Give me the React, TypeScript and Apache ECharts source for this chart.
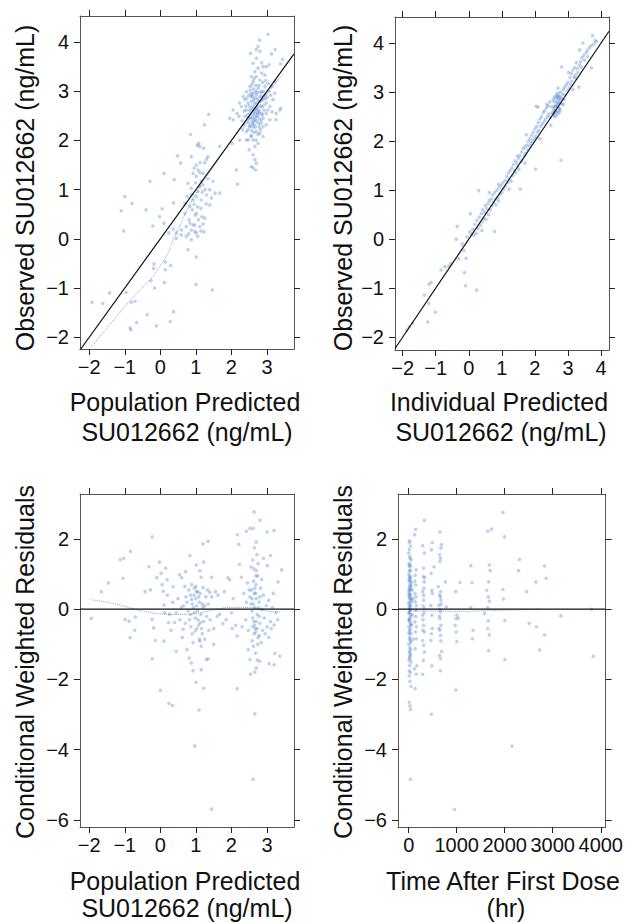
import React, { useEffect, useRef } from "react";
import * as echarts from "echarts";

// ---------- tick labels ----------
const predTicks = [-2, -1, 0, 1, 2, 3];
const ipredTicks = [-2, -1, 0, 1, 2, 3, 4];
const dvTicks = [-2, -1, 0, 1, 2, 3, 4];
const cwresTicks = [-6, -4, -2, 0, 2];
const timeTicks = [0, 1000, 2000, 3000, 4000];

// ---------- axis ranges ----------
const predRange = [-2.26, 3.76];
const ipredRange = [-2.23, 4.24];
const dvRange1 = [-2.24, 4.53];
const dvRange2 = [-2.26, 4.53];
const cwresRange = [-6.2, 3.28];
const timeRange = [-223, 4100];

// ---------- titles ----------
const yTitleDV = "Observed SU012662 (ng/mL)";
const yTitleCW = "Conditional Weighted Residuals";
const xTitlePred = ["Population Predicted", "SU012662 (ng/mL)"];
const xTitleIpred = ["Individual Predicted", "SU012662 (ng/mL)"];
const xTitleTime = ["Time After First Dose", "(hr)"];

// ---------- Panel 1: observed vs population predicted ----------
const dvVsPred = [
  [3.03,4.16],[2.79,4.04],[2.75,3.91],[2.70,3.85],[2.54,3.77],[3.23,3.85],[3.13,3.76],[3.44,3.65],[3.38,3.56],[3.06,3.54],[2.85,3.58],[3.39,2.66],[3.25,2.42],[2.16,2.55],
  [2.23,2.76],[2.28,2.69],[2.38,2.83],[2.42,2.62],[2.47,2.45],[2.38,2.35],[2.31,2.22],[2.42,2.18],[2.52,2.28],[2.56,2.08],[2.47,2.01],[2.61,2.01],[2.66,1.88],[2.70,2.01],[2.75,1.94],[2.80,2.15],[2.89,2.08],[2.61,1.71],[2.66,1.61],[2.56,2.89],[2.61,2.96],[2.66,2.86],[2.70,2.93],[2.80,2.89],[2.89,2.83],[2.61,2.69],[2.70,2.62],[2.75,2.52],[2.85,2.55],[2.61,2.52],[2.52,2.55],[2.66,2.42],[2.75,2.35],[2.89,2.45],[2.98,2.55],[3.08,2.69],[3.17,2.83],[3.13,3.10],[3.22,3.20],[3.03,3.16],[2.94,3.10],[2.80,3.23],[2.70,3.30],[2.61,3.20],[2.66,3.40],[2.75,3.47],[2.85,3.37],[2.94,3.33],[2.89,3.50],[2.56,3.30],[2.52,3.10],[2.42,2.99],[2.33,2.89],[2.75,3.06],[2.85,2.99],[2.94,2.93],[2.56,2.79],[2.70,2.76],[2.82,2.70],[2.98,2.76],[2.47,2.76],[2.61,2.28],[2.47,2.22],[2.89,2.28],[2.98,2.32],[2.38,2.49],[2.21,2.49],[2.05,2.62],[3.08,2.42],[3.26,2.55],[3.36,2.62],[3.22,2.96],[2.98,3.50],[2.70,3.67],[2.61,3.57],[2.80,3.81],[2.50,1.81],[2.56,1.47],[2.68,1.40],[2.42,2.01],[2.23,2.01],
  [2.58,2.60],[2.63,2.58],[2.68,2.55],[2.72,2.48],[2.64,2.33],[2.58,2.38],[2.53,2.44],[2.77,2.62],[2.83,2.80],[2.73,2.85],[2.65,2.75],[2.60,2.90],[2.68,3.00],[2.78,3.12],[2.88,3.18],[2.55,2.95],[2.50,2.70],[2.45,2.52],[2.57,2.20],[2.70,2.18],[2.78,2.28],[2.84,2.40],[2.92,2.62],[3.00,2.88],[3.05,3.00],[2.62,3.05],[2.74,2.70],[2.66,2.64],[2.60,2.45],[2.78,2.58],[2.86,2.68],[2.52,2.30],[2.44,2.40],[2.36,2.60],[2.30,2.40],
  [2.51,2.62],[2.54,2.48],[2.59,2.34],[2.63,2.16],[2.67,2.27],[2.71,2.40],[2.74,2.56],[2.79,2.44],[2.82,2.22],[2.87,2.52],[2.91,2.72],[2.95,2.85],[2.49,2.92],[2.53,3.02],[2.58,3.14],[2.64,3.26],[2.69,3.12],[2.72,2.98],[2.76,2.80],[2.81,2.98],[2.86,2.90],[2.90,3.00],[2.96,3.22],[3.02,2.62],[3.10,2.92],[3.14,2.58],[2.44,2.86],[2.40,2.70],[2.35,2.30],[2.57,2.66],[2.62,2.82],[2.67,2.48],[2.71,2.66],[2.63,2.40],[2.55,2.10],[2.75,2.12],[2.83,2.35],[2.48,2.36],
  [1.36,2.53],[1.24,2.32],[0.85,2.12],[0.48,1.69],[0.57,1.54],[0.10,1.33],[0.39,1.20],[-0.29,1.17],[1.67,1.88],[2.14,1.40],[2.17,1.11],[2.61,1.44],[2.70,1.54],[-1.00,0.86],[-0.80,0.72],[-1.10,0.57],[-0.40,0.59],[-1.03,0.16],[-0.21,0.26],[-0.02,0.45],[0.05,0.61],[0.37,0.73],[0.78,-0.22],[1.01,-0.37],[1.00,-0.93],[1.46,-1.04],[0.29,-0.54],[0.14,-0.47],[-0.18,-0.51],[-0.19,-0.60],[0.14,-0.63],[0.11,-0.89],[-0.16,-1.00],[-0.26,-0.85],[-1.43,-1.10],[-1.92,-1.29],[-1.62,-1.31],[-0.96,-1.09],[-0.71,-1.27],[-0.82,-1.29],[-0.37,-1.54],[0.37,-1.48],[0.28,-1.68],[-0.67,-1.70],[-0.11,-1.77],[-0.85,-1.81],[-0.83,-1.85],[0.10,0.32],[0.24,0.12],[0.36,0.20],[0.45,0.01],
  [0.83,0.66],[0.92,0.79],[1.01,0.86],[1.11,1.06],[1.15,1.17],[1.20,1.33],[1.01,1.50],[0.95,1.44],[1.08,1.94],[1.11,1.88],[1.04,1.90],[1.22,1.84],[1.30,1.62],[1.34,1.67],[1.48,1.17],[1.54,0.93],[1.29,0.71],[1.39,0.69],[1.17,0.45],[1.25,0.42],[0.92,0.28],[0.87,0.18],[0.97,0.15],[1.14,0.16],[1.23,0.14],[0.73,0.05],[0.59,0.08],[0.81,0.39],[0.69,0.52],[0.75,0.86],[0.87,1.03],[1.01,1.27],[0.99,1.14],[1.06,0.96],[1.15,0.79],[1.14,0.62],[1.01,0.52],[0.90,0.59],[1.07,0.39],[0.97,0.28],[0.83,0.32],[1.30,0.89],[1.34,1.22],[1.11,1.35],[0.92,1.33],[0.78,1.13],[0.87,1.67],[0.69,0.72],[0.59,0.18],[0.45,0.12],[0.73,0.25],[1.06,1.40],[1.20,1.10],[1.26,1.00],[1.39,1.00],[1.44,0.83],[1.11,0.25],[1.01,0.12],[0.87,-0.02],[1.67,0.93],[2.02,1.94],[1.95,2.45],[2.05,2.42],
  [0.95,0.70],[1.05,0.65],[1.18,0.95],[0.88,0.90],[1.12,1.55],[1.25,1.55],[0.98,0.48],[1.20,0.30],[0.80,0.10],[1.05,0.05]
];
const loessPred = [[-1.94,-2.2],[-1,-1.38],[0,-0.55],[0.5,0.2],[1,0.92],[1.5,1.48],[2,2.0],[2.5,2.5],[3,2.95],[3.45,3.35]];

// ---------- Panel 2: observed vs individual predicted ----------
const dvVsIpred = [
  [-1.87,-1.85],[-1.80,-1.78],[-1.70,-1.71],[-1.24,-1.69],[-1.01,-1.49],[-1.21,-1.31],[-1.34,-1.14],[-1.14,-0.88],[-1.20,-0.92],[-0.84,-0.63],[-0.72,-0.56],[-0.54,-0.49],[-0.60,-0.55],[-0.35,0.26],[-0.38,0.0],[-0.15,-0.23],[-0.08,-0.39],[-0.13,-0.68],[-0.10,-0.95],[0.24,-1.04],[-0.30,-0.40],[-0.20,-0.10],[-0.05,0.05],
  [0.03,0.15],[0.05,0.52],[0.08,0.10],[0.12,0.20],[0.15,0.08],[0.18,0.30],[0.22,0.12],[0.25,0.38],[0.28,0.22],[0.30,0.99],[0.32,0.45],[0.35,0.28],[0.38,0.52],[0.40,0.35],[0.42,0.60],[0.45,0.42],[0.48,0.55],[0.50,0.68],[0.52,0.40],[0.55,0.62],[0.58,0.72],[0.60,0.50],[0.62,0.78],[0.65,0.60],[0.68,0.82],[0.70,0.68],[0.72,0.90],[0.75,0.75],[0.78,0.16],[0.78,0.95],[0.80,0.82],[0.82,0.70],[0.85,1.00],[0.88,0.85],[0.90,0.78],[0.92,1.05],[0.95,0.92],[0.98,1.10],
  [1.00,0.95],[1.03,1.15],[1.06,1.02],[1.10,1.20],[1.12,1.08],[1.15,1.28],[1.18,1.15],[1.20,1.35],[1.22,1.22],[1.25,1.40],[1.28,1.18],[1.30,1.45],[1.33,1.30],[1.35,1.52],[1.38,1.40],[1.40,1.60],[1.42,1.35],[1.45,1.55],[1.48,1.48],[1.50,1.65],[1.52,1.42],[1.56,1.02],[1.55,1.70],[1.58,1.58],[1.60,1.78],[1.62,1.62],[1.65,1.85],[1.68,1.70],[1.70,1.88],[1.72,1.75],[1.74,2.13],[1.75,1.92],[1.78,1.82],[1.80,2.00],[1.83,1.90],[1.85,2.05],[1.88,1.95],[1.90,2.12],[1.93,2.00],[1.95,2.18],[1.98,2.05],
  [2.00,2.25],[2.02,1.43],[2.04,2.71],[2.10,2.69],[2.03,2.10],[2.06,2.30],[2.08,2.18],[2.10,2.38],[2.12,2.22],[2.15,2.45],[2.18,2.30],[2.20,2.50],[2.22,2.35],[2.25,2.58],[2.28,2.40],[2.30,2.62],[2.32,2.45],[2.35,2.68],[2.38,2.50],[2.40,2.72],[2.42,2.55],[2.45,2.80],[2.47,2.48],[2.50,2.70],[2.52,2.58],[2.55,2.85],[2.56,2.65],[2.58,2.52],[2.60,2.90],[2.62,2.72],[2.63,2.60],[2.65,2.95],[2.66,2.80],[2.68,2.55],[2.70,2.98],[2.70,2.85],[2.72,2.68],[2.74,2.92],[2.75,2.62],[2.76,2.78],[2.78,3.00],[2.79,1.61],[2.80,2.88],[2.81,3.51],[2.82,2.75],[2.84,2.95],[2.86,3.05],[2.88,2.85],[2.90,3.10],[2.92,2.95],[2.95,3.15],[2.98,3.02],
  [2.62,2.50],[2.66,2.62],[2.69,2.70],[2.72,2.78],[2.64,2.88],[2.68,2.92],[2.58,2.70],[2.55,2.55],[2.73,2.58],[2.77,2.85],[2.60,2.62],[2.67,2.75],
  [0.40,0.18],[0.62,0.95],[0.90,1.12],[1.22,1.02],[1.47,1.70],[1.70,1.55],[2.15,2.05],[2.36,2.75],[2.48,2.32],[2.70,3.08],[2.86,2.75],[3.15,3.05],[3.02,3.40],[3.25,3.60],[2.58,2.80],[2.64,2.70],[2.60,2.58],[2.72,2.90],[2.76,2.66],
  [3.00,3.20],[3.03,3.08],[3.06,3.30],[3.08,3.15],[3.10,3.38],[3.12,3.22],[3.15,3.45],[3.18,3.30],[3.20,3.50],[3.22,3.35],[3.25,3.28],[3.28,3.48],[3.30,3.40],[3.33,3.10],[3.35,3.86],[3.35,3.55],[3.38,3.62],[3.40,3.50],[3.42,3.70],[3.45,4.00],[3.48,3.75],[3.50,3.65],[3.55,3.80],[3.58,3.85],[3.60,3.72],[3.65,3.90],[3.71,3.49],[3.70,3.95],[3.74,4.15],[3.78,3.98],[3.82,4.05],[3.86,4.03]
];

// ---------- Panel 3: CWRES vs population predicted ----------
const cwresVsPred = [
  [-1.94,-0.26],[-1.66,0.50],[-1.46,0.75],[-1.13,1.41],[-1.03,1.45],[-0.84,1.65],[-1.05,0.88],[-0.99,-0.29],[-0.88,-0.34],[-0.85,-0.81],[-0.70,-0.22],[-0.72,-0.60],[-0.43,0.50],[-0.32,1.21],[-0.23,2.06],[-0.28,0.55],[-0.23,-0.29],[-0.19,-0.53],[-0.14,-0.89],[-0.23,-1.41],[-0.02,1.34],[0.02,1.02],[0.08,0.51],[0.10,0.12],[0.10,-0.91],[0.15,1.17],[0.19,0.84],[0.23,-0.38],[0.26,-0.14],[0.24,-2.68],[0.34,-2.74],[0.0,-2.31],[0.36,0.64],[0.40,-0.38],[0.45,-1.20],[0.54,0.98],[0.59,0.05],[0.64,-0.57],[0.69,0.65],[0.71,1.07],[0.83,1.53],[0.75,-1.15],[0.81,-1.39],[0.87,-1.53],[0.92,-1.75],[0.97,-3.89],[1.00,-2.08],[1.09,-2.87],[1.22,-2.25],[1.01,1.26],[1.11,1.10],[1.15,0.91],[1.22,1.34],[1.20,1.86],[1.34,1.93],[1.44,0.91],[1.39,0.48],[1.50,-1.00],[1.34,-1.41],[1.30,-1.43],[1.15,-1.72],[1.11,-0.91],[1.44,-5.69],[1.62,0.40],[1.67,-0.14],[1.76,-0.41],[1.95,0.84],[2.02,-0.55],[2.12,-0.46],[2.16,-0.76],[2.16,-2.26],[2.21,1.85],[2.23,1.28],[2.17,2.12],[2.28,0.91],[2.42,2.22],[2.52,2.30],[2.61,2.30],[2.64,2.77],[2.80,2.53],[2.70,1.91],[3.00,2.20],[3.20,2.24],[3.41,1.12],[3.31,0.78],[3.10,1.53],[3.01,1.24],[3.36,-1.34],[3.20,-1.58],[3.06,-1.55],[3.22,-1.26],[2.66,-2.98],[2.61,-4.84],[2.54,-1.85],[2.66,-1.79],[2.70,-1.67],[2.47,-1.15],[2.52,-1.43],[2.80,-1.48],
  [0.80,0.55],[0.85,0.40],[0.88,0.28],[0.90,0.15],[0.93,0.05],[0.95,-0.10],[0.98,-0.25],[1.00,0.30],[1.02,0.10],[1.04,-0.05],[1.06,-0.30],[1.08,-0.45],[1.10,0.20],[1.12,0.45],[1.14,-0.15],[1.16,-0.55],[1.18,-0.70],[1.20,0.05],[1.22,-0.35],[1.25,-0.85],[1.28,0.35],[1.30,-0.20],[1.33,0.55],[1.36,-0.60],[0.82,-0.30],[0.86,-0.50],[0.90,-0.70],[0.92,-0.95],[0.96,0.60],[1.00,0.65],[1.05,0.50],[1.10,-0.85],[1.15,-1.05],[0.75,0.20],[0.78,-0.05],[0.72,0.35],[0.70,-0.40],[0.88,0.70],[1.20,0.62],[1.25,0.10],[1.35,0.15],[1.40,-0.30],[1.45,0.35],[1.50,-0.55],[1.55,0.50],[1.60,-0.20],
  [0.95,0.40],[1.03,-0.55],[1.08,0.35],[1.13,-0.38],[0.98,-0.62],[1.18,0.15],[0.85,-0.15],[1.02,0.50],
  [2.45,0.75],[2.50,0.55],[2.52,0.35],[2.55,0.15],[2.58,-0.05],[2.60,-0.25],[2.62,0.80],[2.64,0.45],[2.65,-0.45],[2.66,0.05],[2.68,-0.65],[2.70,0.30],[2.72,-0.15],[2.74,0.95],[2.75,-0.80],[2.78,0.20],[2.80,-0.40],[2.82,0.60],[2.84,-0.95],[2.86,0.00],[2.88,-0.60],[2.90,0.40],[2.92,-0.25],[2.95,-0.70],[2.98,0.10],[3.00,-0.50],[3.05,0.25],[3.10,-0.35],[3.15,0.05],[3.20,-0.45],[2.40,-0.30],[2.42,0.20],[2.48,-0.60],[2.35,0.45],[2.30,-0.50],[2.55,1.20],[2.60,1.40],[2.65,1.75],[2.70,1.10],[2.72,1.55],[2.75,1.30],[2.62,-1.05],[2.68,-1.25],[2.73,-1.45],[2.58,-0.90],[2.78,-0.75],[2.67,-0.55],[2.63,-0.35],[2.57,0.55],[2.69,0.70],[2.85,0.85],[2.90,1.45],[3.05,-0.80],[3.12,-0.55],[3.18,0.45],[3.25,-0.10],[3.30,-0.30],
  [2.62,0.15],[2.68,0.45],[2.64,-0.70],[2.70,-0.35],[2.58,0.30],[2.76,0.05],[2.66,0.60],[2.72,-0.55],[2.60,-0.50],[2.80,0.35],[2.74,-1.00],[2.69,0.95],[2.63,1.15],[2.78,-0.20],
  [1.80,0.50],[1.85,-0.30],[1.90,0.90],[2.00,-0.10],[2.05,0.30],
  [-0.10,0.90],[0.05,0.70],[0.12,-0.10],[0.20,0.40],[0.30,-0.60],[0.35,0.20],[0.45,-0.10],[0.50,0.30],[0.55,-0.30],[0.60,0.90],[0.62,-0.80],[0.65,0.10]
];
const loessCwresPred = [[-1.94,0.27],[-1.5,0.2],[-1,0.08],[-0.5,-0.05],[0,-0.13],[0.5,-0.15],[1,-0.12],[1.5,-0.02],[2,0.05],[2.5,0.05],[3,-0.05],[3.4,-0.08]];

// ---------- Panel 4: CWRES vs time ----------
const cwresVsTime = [
  [24,1.95],[12,1.90],[36,1.80],[0,1.60],[24,1.50],[48,1.40],[12,1.30],[24,1.20],[36,1.10],[0,1.00],[24,0.95],[12,0.90],[36,0.80],[24,0.70],[48,0.65],[12,0.60],[0,0.50],[24,0.45],[36,0.40],[12,0.35],[24,0.30],[48,0.20],[0,0.15],[24,0.10],[12,0.05],[36,0.00],[24,-0.05],[0,-0.10],[48,-0.20],[24,-0.30],[12,-0.35],[36,-0.40],[0,-0.50],[24,-0.60],[12,-0.65],[48,-0.70],[24,-0.80],[36,-0.90],[0,-1.00],[24,-1.10],[12,-1.20],[36,-1.30],[24,-1.40],[48,-1.50],[24,-1.60],[12,-1.75],[36,-1.80],[24,-2.05],[48,-2.20],[12,-2.65],[24,-2.75],[36,-2.85],[34,-4.84],
  [60,0.25],[60,-0.45],[60,0.75],[72,-0.15],[72,0.55],[90,-0.85],[90,0.30],[6,1.25],[18,-0.25],[30,0.65],[42,-0.95],[6,-1.45],[18,0.85],
  [6,0.20],[18,0.55],[30,-0.15],[42,0.30],[6,-0.70],[18,-0.85],[30,1.45],[42,-1.15],[6,0.80],[18,1.10],[30,-0.55],[42,0.90],[10,-1.90],[28,-1.25],[40,-0.45],[8,0.40],[20,-1.35],[36,1.25],[14,1.70],[44,0.10],[4,-0.30],[26,0.00],[16,-0.10],[38,0.55],
  [122,2.12],[142,2.27],[156,1.12],[135,0.97],[142,0.69],[129,0.45],[135,0.21],[156,-0.03],[129,-0.36],[142,-0.65],[156,-0.84],[135,-1.13],[169,-1.61],[156,-1.85],[135,-2.26],[122,-1.70],[150,0.35],[160,-0.50],[160,0.10],[145,-0.20],[130,0.80],
  [325,2.53],[291,1.81],[325,1.60],[311,1.17],[305,0.93],[325,0.78],[291,0.50],[311,0.26],[325,0.02],[291,-0.17],[311,-0.46],[325,-0.65],[291,-0.89],[311,-1.03],[325,-1.22],[305,-1.46],[291,-1.85],[318,0.60],[300,-0.30],[300,0.10],[320,-0.10],[310,0.40],[295,-0.60],[330,0.90],
  [494,1.90],[474,1.69],[467,1.02],[481,0.54],[494,0.45],[460,0.11],[481,-0.17],[494,-0.55],[474,-0.70],[460,-0.89],[481,-1.61],[474,-2.99],[528,1.21],
  [650,2.20],[684,1.84],[670,1.74],[643,1.55],[663,1.45],[650,1.36],[616,0.64],[663,0.50],[643,0.40],[670,0.26],[630,0.11],[663,-0.08],[650,-0.27],[670,-0.46],[630,-0.55],[663,-0.75],[643,-1.32],[663,-1.41],[684,-1.20],[663,-1.75],[765,0.78],[785,0.07],
  [655,0.00],[640,-0.20],[675,0.15],[660,0.35],[645,-0.60],[670,-0.90],
  [981,0.50],[1002,-0.17],[988,-0.27],[968,-0.46],[988,-0.65],[1002,-0.92],[981,-2.30],[954,-5.70],[1069,0.76],[1035,-0.25],
  [1293,1.24],[1320,0.76],[1293,0.04],[1340,-0.60],[1327,-0.84],
  [1645,2.22],[1726,2.28],[1679,1.26],[1699,1.10],[1665,0.78],[1624,0.54],[1658,0.35],[1679,0.23],[1645,0.05],[1577,-0.12],[1658,-0.33],[1645,-0.55],[1679,-0.73],[1665,-1.18],
  [1963,2.76],[1997,2.06],[1963,0.56],[1970,0.29],[2003,-0.32],[2003,-1.43],[2152,-3.90],
  [2308,1.42],[2288,1.10],[2457,0.50],[2511,-0.40],[2646,0.78],[2660,-0.50],[2728,-1.16],[2829,1.23],[2863,0.88],[2829,-0.73],[3168,-0.19],[3844,-1.34],[3810,0.0]
];
const loessCwresTime = [[0,-0.05],[500,-0.05],[1000,-0.06],[1500,-0.05],[2000,-0.03],[2500,-0.01],[2750,0]];

const FONT = '"Liberation Sans", Arial, sans-serif';
const POINT = "rgba(62,122,200,0.42)";
const LOESS = "rgba(62,122,200,0.65)";

const grids = [
  { left: 80, top: 16, width: 214, height: 333 },
  { left: 395, top: 17, width: 214, height: 333 },
  { left: 80, top: 494, width: 214, height: 333 },
  { left: 398, top: 494, width: 213, height: 333 },
];

const fmt = (v: number) => String(v).replace("-", "\u2212");

function axisPair(kind: "x" | "y", gi: number, range: number[], ticks: number[]) {
  const positions = kind === "x" ? ["bottom", "top"] : ["left", "right"];
  return positions.map((pos, i) => ({
    type: "value",
    gridIndex: gi,
    position: pos,
    min: range[0],
    max: range[1],
    axisLine: { show: true, onZero: false, lineStyle: { color: "#555", width: 1 } },
    axisTick: { show: true, inside: false, length: 6, customValues: ticks, lineStyle: { color: "#222", width: 1 } },
    axisLabel: {
      show: i === 0,
      customValues: ticks,
      formatter: fmt,
      fontSize: 20,
      fontFamily: FONT,
      color: "#111",
      margin: kind === "x" ? 8 : 11,
    },
    splitLine: { show: false },
  }));
}

function yTitle(text: string, x: number, y: number) {
  return {
    type: "text",
    x,
    y,
    rotation: Math.PI / 2,
    style: { text, font: `25px ${FONT}`, fill: "#111", align: "center", verticalAlign: "middle" },
  };
}
function xTitle(text: string, x: number, y: number) {
  return {
    type: "text",
    x,
    y,
    style: { text, font: `25px ${FONT}`, fill: "#111", align: "center", verticalAlign: "middle" },
  };
}

export default function App() {
  const ref = useRef<HTMLDivElement>(null);
  useEffect(() => {
    const chart = echarts.init(ref.current!, null, { renderer: "svg" });
    const xAxis = [
      ...axisPair("x", 0, predRange, predTicks),
      ...axisPair("x", 1, ipredRange, ipredTicks),
      ...axisPair("x", 2, predRange, predTicks),
      ...axisPair("x", 3, timeRange, timeTicks),
    ];
    const yAxis = [
      ...axisPair("y", 0, dvRange1, dvTicks),
      ...axisPair("y", 1, dvRange2, dvTicks),
      ...axisPair("y", 2, cwresRange, cwresTicks),
      ...axisPair("y", 3, cwresRange, cwresTicks),
    ];
    const scatter = (i: number, data: number[][]) => ({
      type: "scatter",
      xAxisIndex: i * 2,
      yAxisIndex: i * 2,
      data,
      symbolSize: 3.6,
      itemStyle: { color: POINT },
      silent: true,
    });
    const line = (i: number, data: number[][], color: string, type: string, width: number, smooth = false) => ({
      type: "line",
      xAxisIndex: i * 2,
      yAxisIndex: i * 2,
      data,
      symbol: "none",
      smooth,
      clip: true,
      silent: true,
      lineStyle: { color, type, width },
    });
    const option = {
      animation: false,
      backgroundColor: "#fff",
      grid: grids,
      xAxis,
      yAxis,
      series: [
        scatter(0, dvVsPred),
        line(0, loessPred, LOESS, "dotted", 1, true),
        line(0, [[predRange[0], predRange[0]], [predRange[1], predRange[1]]], "#111", "solid", 1.2),
        scatter(1, dvVsIpred),
        line(1, [[ipredRange[0], ipredRange[0]], [ipredRange[1], ipredRange[1]]], "#111", "solid", 1.2),
        scatter(2, cwresVsPred),
        line(2, loessCwresPred, LOESS, "dotted", 1, true),
        line(2, [[predRange[0], 0], [predRange[1], 0]], "#111", "solid", 1.2),
        scatter(3, cwresVsTime),
        line(3, loessCwresTime, LOESS, "dotted", 1, true),
        line(3, [[timeRange[0], 0], [timeRange[1], 0]], "#111", "solid", 1.2),
      ],
      graphic: [
        yTitle(yTitleDV, 25, 188),
        yTitle(yTitleDV, 343, 188),
        yTitle(yTitleCW, 25, 662),
        yTitle(yTitleCW, 343, 662),
        xTitle(xTitlePred[0], 185, 402),
        xTitle(xTitlePred[1], 187, 432),
        xTitle(xTitleIpred[0], 499, 402),
        xTitle(xTitleIpred[1], 501, 432),
        xTitle(xTitlePred[0], 185, 881),
        xTitle(xTitlePred[1], 187, 908),
        xTitle(xTitleTime[0], 503, 881),
        xTitle(xTitleTime[1], 506, 908),
      ],
    };
    chart.setOption(option as any);
    return () => chart.dispose();
  }, []);
  return (
    <div
      ref={ref}
      style={{ position: "absolute", left: 0, top: 0, width: 626, height: 923 }}
    />
  );
}
